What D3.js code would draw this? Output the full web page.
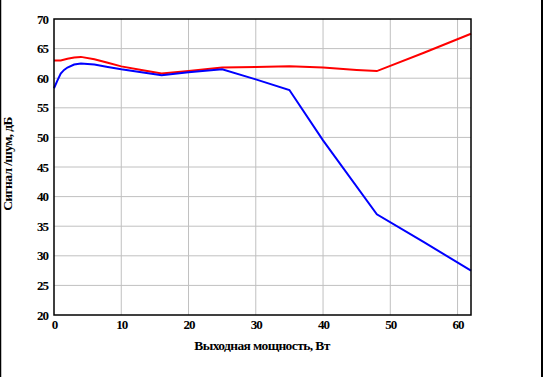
<!DOCTYPE html>
<html>
<head>
<meta charset="utf-8">
<script src="https://cdn.jsdelivr.net/npm/d3@7"></script>
<style>
body { margin: 0; background: #fff; }
svg { display: block; }
</style>
</head>
<body>
<svg id="chart" width="544" height="377"></svg>
<script>
// мощность, Вт
const redX = [0, 1, 2, 3, 4, 6, 8, 10, 13, 16, 20, 25, 30, 35, 40, 45, 48, 55, 62];
const redY = [63, 63, 63.3, 63.5, 63.6, 63.2, 62.6, 62, 61.4, 60.8, 61.2, 61.8, 61.9, 62, 61.8, 61.4, 61.2, 64.3, 67.5];
const blueX = [0, 0.5, 1, 1.5, 2, 3, 4, 6, 8, 10, 13, 16, 20, 25, 30, 35, 40, 48, 55, 62];
const blueY = [58.3, 59.6, 60.8, 61.4, 61.8, 62.3, 62.5, 62.3, 61.9, 61.5, 61, 60.5, 61, 61.5, 59.8, 58, 49.5, 37, 32.3, 27.5];
const xTicks = [0, 10, 20, 30, 40, 50, 60];
const yTicks = [20, 25, 30, 35, 40, 45, 50, 55, 60, 65, 70];

const FONT = "'Liberation Serif', 'Times New Roman', 'DejaVu Serif', serif";
const svg = d3.select("#chart");
const mLeft = 54, mRight = 471, mTop = 19, mBottom = 315;

// рамка страницы
svg.append("line").attr("x1", 0.5).attr("x2", 0.5).attr("y1", 0).attr("y2", 377)
   .attr("stroke", "#000").attr("stroke-width", 1.5);
svg.append("line").attr("x1", 542).attr("x2", 542).attr("y1", 0).attr("y2", 377)
   .attr("stroke", "#000").attr("stroke-width", 2);

var x = d3.scaleLinear().domain([0, 62]).range([mLeft, mRight]);
var y = d3.scaleLinear().domain([20, 70]).range([mBottom, mTop]);

// сетка
svg.append("g").selectAll("line").data(xTicks.filter(d => d > 0)).enter().append("line")
   .attr("x1", d => x(d)).attr("x2", d => x(d)).attr("y1", mTop).attr("y2", mBottom)
   .attr("stroke", "#c0c0c0").attr("stroke-width", 1);
svg.append("g").selectAll("line").data(yTicks.filter(d => d > 20 && d < 70)).enter().append("line")
   .attr("x1", mLeft).attr("x2", mRight).attr("y1", d => y(d)).attr("y2", d => y(d))
   .attr("stroke", "#c0c0c0").attr("stroke-width", 1);

// оси
var xAxis = d3.axisBottom(x).tickValues(xTicks).tickSize(0).tickPadding(5);
var yAxis = d3.axisLeft(y).tickValues(yTicks).tickSize(0).tickPadding(6);

svg.append("g").attr("transform", `translate(0,${mBottom})`).call(xAxis)
   .attr("font-family", FONT).attr("font-size", 13).attr("font-weight", "bold")
   .call(g => g.select(".domain").remove())
   .selectAll("text").attr("letter-spacing", "-1px").attr("fill", "#000");
svg.append("g").attr("transform", `translate(${mLeft},0)`).call(yAxis)
   .attr("font-family", FONT).attr("font-size", 13).attr("font-weight", "bold")
   .call(g => g.select(".domain").remove())
   .selectAll("text").attr("letter-spacing", "-1px").attr("fill", "#000");

var line = d3.line().x(d => x(d[0])).y(d => y(d[1]));

svg.append("path").datum(redX.map((v, i) => [v, redY[i]]))
   .attr("d", line).attr("fill", "none").attr("stroke", "#ff0000").attr("stroke-width", 2);
svg.append("path").datum(blueX.map((v, i) => [v, blueY[i]]))
   .attr("d", line).attr("fill", "none").attr("stroke", "#0000ff").attr("stroke-width", 2);

// рамка области графика
svg.append("rect").attr("x", mLeft).attr("y", mTop).attr("width", mRight - mLeft).attr("height", mBottom - mTop)
   .attr("fill", "none").attr("stroke", "#000").attr("stroke-width", 1.5);

svg.append("text").attr("x", 262).attr("y", 350).attr("text-anchor", "middle")
   .attr("font-family", FONT).attr("font-weight", "bold").attr("font-size", 13.5)
   .attr("letter-spacing", "-0.6px").text("Выходная мощность, Вт");
svg.append("text").attr("transform", "translate(12,164) rotate(-90)").attr("text-anchor", "middle")
   .attr("font-family", FONT).attr("font-weight", "bold").attr("font-size", 13.5)
   .attr("letter-spacing", "-0.6px").text("Сигнал /шум, дБ");
</script>
</body>
</html>
